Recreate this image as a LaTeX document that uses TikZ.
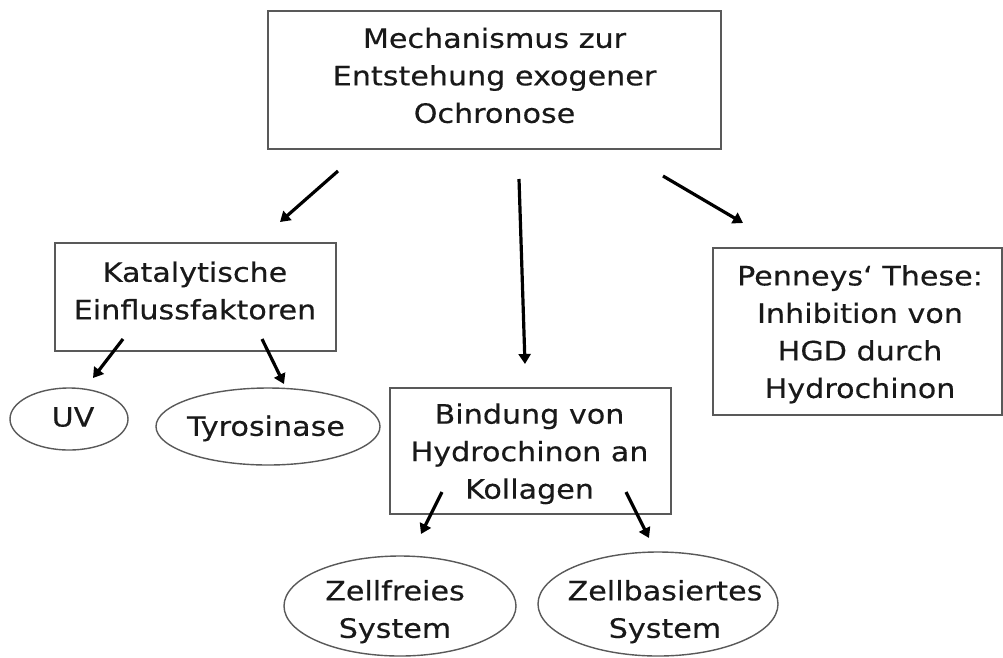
\documentclass[tikz,border=0pt]{standalone}
\usepackage{fontspec}
\setmainfont[FakeStretch=1.13,FakeBold=0.35]{DejaVu Sans}
\usetikzlibrary{shapes.geometric,arrows.meta}
\begin{document}
\begin{tikzpicture}[x=1pt,y=-1pt,
  box/.style={draw=black!65,line width=1.4pt,rectangle,inner sep=0pt},
  oval/.style={draw=black!65,line width=1.4pt,ellipse,inner sep=0pt},
  txt/.style={align=center,inner sep=0pt,text=black!90,font=\fontsize{26.7}{37.5}\selectfont},
  arr/.style={line width=3.2pt,-{Triangle[length=10pt,width=12pt]}}]
\useasboundingbox (0,0) rectangle (1003,657);
\fill[white] (0,0) rectangle (1003,657);
% shapes
\node[box,minimum width=453pt,minimum height=138pt] (top) at (494.5,80) {};
\node[box,minimum width=281pt,minimum height=108pt] (kat) at (195.5,297) {};
\node[box,minimum width=281pt,minimum height=126pt] (bind) at (530.5,451) {};
\node[box,minimum width=289pt,minimum height=167pt] (pen) at (857.5,331.5) {};
\node[oval,minimum width=118pt,minimum height=62pt] (uv) at (69,419) {};
\node[oval,minimum width=224pt,minimum height=77pt] (tyr) at (268,426.5) {};
\node[oval,minimum width=232pt,minimum height=100pt] (zf) at (400,606) {};
\node[oval,minimum width=240pt,minimum height=104pt] (zb) at (658,604) {};
% texts
\node[txt] (toptxt) at (494.5,75.4) {Mechanismus zur\\Entstehung exogener\\Ochronose};
\node[txt] (kattxt) at (195,290.6) {Katalytische\\Einflussfaktoren};
\node[txt] (bindtxt) at (529.5,453.8) {Bindung von\\Hydrochinon an\\Kollagen};
\node[txt] (pentxt) at (860,334.3) {Penneys‘ These:\\Inhibition von\\HGD durch\\Hydrochinon};
\node[txt] (uvtxt) at (73,417) {UV};
\node[txt] (tyrtxt) at (266,428.4) {Tyrosinase};
\node[txt] (zftxt) at (395,611.7) {Zellfreies\\System};
\node[txt] (zbtxt) at (665,611.7) {Zellbasiertes\\System};
% arrow end points
\coordinate (a1s) at (338,171);
\coordinate (a1e) at (280,222);
\coordinate (a2s) at (519,179);
\coordinate (a2e) at (525,364);
\coordinate (a3s) at (663,176);
\coordinate (a3e) at (743,223);
\coordinate (a4s) at (123,339);
\coordinate (a4e) at (93,378);
\coordinate (a5s) at (262,339);
\coordinate (a5e) at (284,384);
\coordinate (a6s) at (442,492);
\coordinate (a6e) at (421,534);
\coordinate (a7s) at (626,492);
\coordinate (a7e) at (649,538);
\draw[arr] (a1s) -- (a1e);
\draw[arr] (a2s) -- (a2e);
\draw[arr] (a3s) -- (a3e);
\draw[arr] (a4s) -- (a4e);
\draw[arr] (a5s) -- (a5e);
\draw[arr] (a6s) -- (a6e);
\draw[arr] (a7s) -- (a7e);
\end{tikzpicture}
\end{document}
